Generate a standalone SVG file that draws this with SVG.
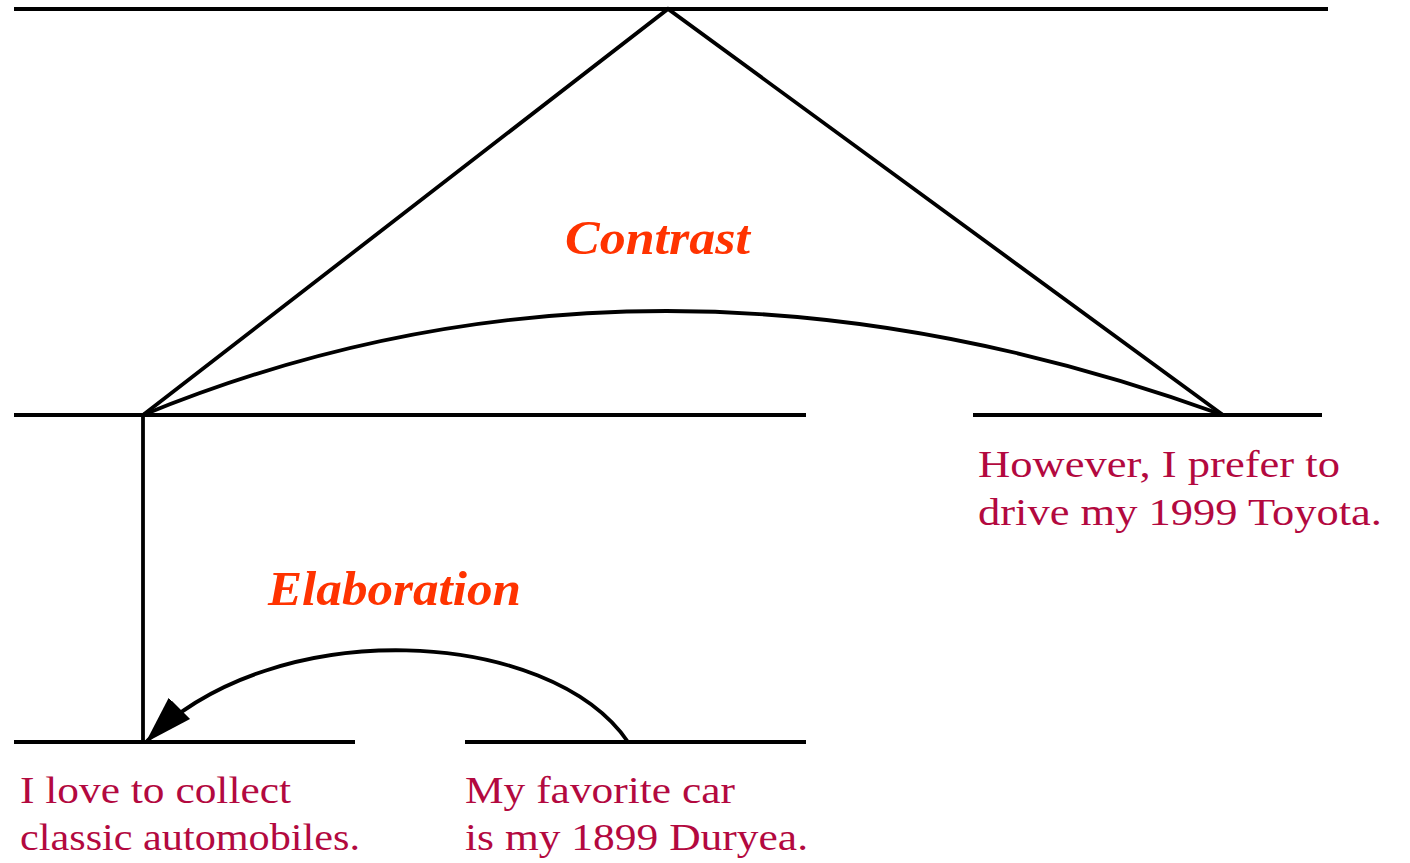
<svg xmlns="http://www.w3.org/2000/svg" width="1410" height="863" viewBox="0 0 1410 863">
<style>
.ln{stroke:#000;stroke-width:3.8;fill:none}
.tx{font-family:"Liberation Serif",serif;font-size:38px;fill:#B3093F}
.lb{font-family:"Liberation Serif",serif;font-size:48px;font-weight:bold;font-style:italic;fill:#FF3300}
</style>
<defs>
<marker id="ah" markerUnits="userSpaceOnUse" markerWidth="48" markerHeight="34" viewBox="0 0 48 34" refX="46" refY="17" orient="auto">
<path d="M0,2 L48,17 L0,32 Z" fill="#000"/>
</marker>
</defs>
<rect width="1410" height="863" fill="#fff"/>
<g id="root">
<line class="ln" x1="14" y1="9" x2="1328" y2="9"/>
</g>
<g id="span-left">
<line class="ln" x1="14" y1="415" x2="806" y2="415"/>
</g>
<g id="seg-toyota">
<line class="ln" x1="973" y1="415" x2="1322" y2="415"/>
<text class="tx" x="978" y="477" textLength="362" lengthAdjust="spacingAndGlyphs">However, I prefer to</text>
<text class="tx" x="978" y="525" textLength="404" lengthAdjust="spacingAndGlyphs">drive my 1999 Toyota.</text>
</g>
<g id="seg-collect">
<line class="ln" x1="14" y1="742" x2="355" y2="742"/>
<text class="tx" x="20" y="803" textLength="271" lengthAdjust="spacingAndGlyphs">I love to collect</text>
<text class="tx" x="20" y="850" textLength="340" lengthAdjust="spacingAndGlyphs">classic automobiles.</text>
</g>
<g id="seg-duryea">
<line class="ln" x1="465" y1="742" x2="806" y2="742"/>
<text class="tx" x="465" y="803" textLength="270" lengthAdjust="spacingAndGlyphs">My favorite car</text>
<text class="tx" x="465" y="850" textLength="343" lengthAdjust="spacingAndGlyphs">is my 1899 Duryea.</text>
</g>
<g id="connectors">
<path class="ln" d="M143,415 L668,9 L1223,415"/>
<line class="ln" x1="143" y1="415" x2="143" y2="742"/>
<path class="ln" d="M1223,415 Q650,207 143,415"/>
<path class="ln" d="M628,742 C550,628 275,612 147,741" marker-end="url(#ah)"/>
</g>
<g id="labels">
<text class="lb" x="565" y="254" textLength="185" lengthAdjust="spacingAndGlyphs">Contrast</text>
<text class="lb" x="268" y="605" textLength="253" lengthAdjust="spacingAndGlyphs">Elaboration</text>
</g>
</svg>
